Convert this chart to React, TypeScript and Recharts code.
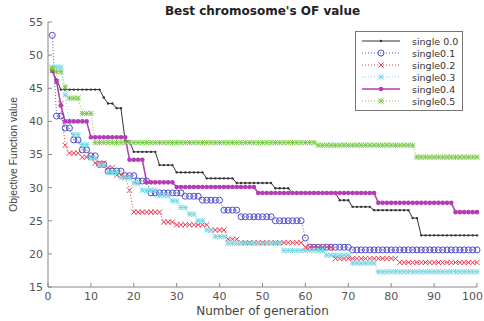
import React from 'react';
import { LineChart, Line, XAxis, YAxis, Legend, Label } from 'recharts';

// generations 1..100 on the x axis
const generations = Array.from({ length: 100 }, (_, i) => i + 1);
const xTicks = [0, 10, 20, 30, 40, 50, 60, 70, 80, 90, 100];
const yTicks = [15, 20, 25, 30, 35, 40, 45, 50, 55];

// best-so-far OF value, as [generation where it changes, new value]
const single00 = [
  [1, 47.5], [2, 46.3], [3, 44.8], [13, 43.6], [14, 42.7], [16, 42], [18, 37], [20, 35.4],
  [26, 33.4], [30, 32.3], [37, 31.4], [44, 30.7], [53, 29.9], [57, 29.2], [68, 28.1],
  [71, 27.1], [76, 26.6], [85, 25.4], [87, 22.8],
];
const single01 = [
  [1, 53], [2, 40.8], [4, 39], [6, 37.2], [8, 35.7], [10, 34.8], [12, 33.5], [14, 32.5],
  [18, 31.8], [21, 31], [24, 29.2], [32, 28.7], [36, 28.1], [41, 26.6], [45, 25.6],
  [53, 25], [60, 22.4], [61, 21], [71, 20.6],
];
const single02 = [
  [1, 47.7], [2, 46], [3, 42.7], [4, 36.4], [5, 35.2], [8, 34.6], [11, 33.7], [14, 33],
  [16, 31.9], [18, 31.6], [19, 29.6], [20, 26.3], [27, 24.8], [30, 24.4], [38, 23.6],
  [42, 22.2], [45, 21.7], [60, 21], [67, 19.3], [82, 18.7],
];
const single03 = [
  [1, 48.2], [4, 44], [5, 40], [6, 38], [8, 36.5], [10, 34.4], [12, 33.5], [14, 32.3],
  [17, 31.5], [20, 30.7], [22, 29.6], [26, 28.8], [29, 28], [31, 27], [33, 26], [35, 25],
  [37, 23.6], [39, 22.6], [42, 21.6], [55, 20.5], [65, 19.8], [71, 18.6], [77, 17.3],
];
const single04 = [
  [1, 47.7], [2, 46], [3, 42.4], [4, 40], [10, 37.6], [19, 34.2], [23, 30.8], [30, 30.1],
  [49, 29.2], [77, 27.7], [95, 26.3],
];
const single05 = [
  [1, 48], [2, 47.5], [4, 45.2], [5, 43.5], [8, 41.2], [11, 36.8], [63, 36.4], [86, 34.6],
];

const hold = (steps: number[][]) =>
  generations.map((g) => {
    let v = steps[0][1];
    for (const [s, val] of steps) if (g >= s) v = val;
    return v;
  });

const data = generations.map((g, i) => ({
  gen: g,
  s0: hold(single00)[i],
  s1: hold(single01)[i],
  s2: hold(single02)[i],
  s3: hold(single03)[i],
  s4: hold(single04)[i],
  s5: hold(single05)[i],
}));

type Shape = 'point' | 'circle' | 'cross' | 'star' | 'filled';

const marker = (shape: Shape, color: string, cx: number, cy: number, key?: any) => {
  if (shape === 'point') return <circle key={key} cx={cx} cy={cy} r={1.2} fill={color} />;
  if (shape === 'circle')
    return <circle key={key} cx={cx} cy={cy} r={3} fill="none" stroke={color} strokeWidth={1} />;
  if (shape === 'filled') return <circle key={key} cx={cx} cy={cy} r={2.3} fill={color} />;
  const s = 2.6;
  return (
    <g key={key} stroke={color} strokeWidth={1}>
      <line x1={cx - s} y1={cy - s} x2={cx + s} y2={cy + s} />
      <line x1={cx - s} y1={cy + s} x2={cx + s} y2={cy - s} />
      {shape === 'star' && <line x1={cx - s} y1={cy} x2={cx + s} y2={cy} />}
      {shape === 'star' && <line x1={cx} y1={cy - s} x2={cx} y2={cy + s} />}
    </g>
  );
};

const series = [
  { key: 's0', name: 'single 0.0', color: '#333333', shape: 'point' as Shape, dash: undefined, width: 1 },
  { key: 's1', name: 'single0.1', color: '#5050cc', shape: 'circle' as Shape, dash: '1 2', width: 1 },
  { key: 's2', name: 'single0.2', color: '#ee3b52', shape: 'cross' as Shape, dash: '1 2', width: 1 },
  { key: 's3', name: 'single0.3', color: '#78d8e6', shape: 'star' as Shape, dash: '1 2', width: 1 },
  { key: 's4', name: 'single0.4', color: '#b43cb4', shape: 'filled' as Shape, dash: undefined, width: 1.5 },
  { key: 's5', name: 'single0.5', color: '#7ccc4c', shape: 'star' as Shape, dash: '1 2', width: 1 },
];

const font = '"DejaVu Sans", sans-serif';

const XTick = (props: any) => {
  const { x, y, payload } = props;
  const last = payload.value === 100;
  return (
    <text
      x={last ? 483 : x}
      y={y}
      dy={8}
      textAnchor={last ? 'end' : 'middle'}
      fontFamily={font}
      fontSize={11}
      fill="#555"
    >
      {payload.value}
    </text>
  );
};

const renderLegend = () => (
  <div
    style={{
      width: 106,
      border: '1px solid #777',
      background: '#fff',
      padding: '3px 0',
      fontFamily: font,
      fontSize: 9.5,
      color: '#333',
    }}
  >
    {series.map((s) => (
      <div key={s.key} style={{ display: 'flex', alignItems: 'center', height: 12 }}>
        <svg width={46} height={12} style={{ marginLeft: 4 }}>
          <line x1={2} y1={6} x2={40} y2={6} stroke={s.color} strokeWidth={s.width} strokeDasharray={s.dash} />
          {marker(s.shape, s.color, 21, 6)}
        </svg>
        <span style={{ marginLeft: 6 }}>{s.name}</span>
      </div>
    ))}
  </div>
);

export default function App() {
  return (
    <div style={{ position: 'absolute', left: 0, top: 0, width: 484, height: 321, background: '#fff' }}>
      <div
        style={{
          position: 'absolute',
          top: 4,
          left: 48,
          width: 429,
          textAlign: 'center',
          fontFamily: font,
          fontWeight: 'bold',
          fontSize: 12,
          lineHeight: '14px',
          color: '#222',
        }}
      >
        Best chromosome's OF value
      </div>
      <LineChart width={484} height={321} data={data} margin={{ top: 22, right: 7, bottom: 4, left: 0 }}>
        <XAxis
          xAxisId="top"
          orientation="top"
          dataKey="gen"
          type="number"
          domain={[0, 100]}
          tick={false}
          tickLine={false}
          axisLine={{ stroke: '#dddddd' }}
          height={0}
        />
        <YAxis
          yAxisId="right"
          orientation="right"
          domain={[15, 55]}
          tick={false}
          tickLine={false}
          axisLine={{ stroke: '#dddddd' }}
          width={0}
        />
        <XAxis
          dataKey="gen"
          type="number"
          domain={[0, 100]}
          ticks={xTicks}
          height={30}
          tickSize={-4}
          tickMargin={9}
          tickLine={{ stroke: '#888' }}
          axisLine={{ stroke: '#888' }}
          tick={<XTick />}
        >
          <Label
            value="Number of generation"
            position="insideBottom"
            offset={2}
            style={{ fontFamily: font, fontSize: 12, fill: '#444' }}
          />
        </XAxis>
        <YAxis
          domain={[15, 55]}
          ticks={yTicks}
          width={48}
          tickSize={-4}
          tickMargin={9}
          tickLine={{ stroke: '#888' }}
          axisLine={{ stroke: '#888' }}
          tick={{ fontFamily: font, fontSize: 11, fill: '#555' }}
        >
          <Label
            value="Objective Function value"
            angle={-90}
            position="insideLeft"
            offset={13}
            style={{ fontFamily: '"Liberation Sans", Arial, sans-serif', fontSize: 10.5, fill: '#444', textAnchor: 'middle' }}
          />
        </YAxis>
        <Legend
          layout="horizontal"
          verticalAlign="middle"
          align="center"
          wrapperStyle={{ top: 31, left: 355, width: 108 }}
          content={renderLegend}
        />
        {series.map((s) => (
          <Line
            key={s.key}
            type="linear"
            dataKey={s.key}
            name={s.name}
            stroke={s.color}
            strokeWidth={s.width}
            strokeDasharray={s.dash}
            dot={(p: any) => marker(s.shape, s.color, p.cx, p.cy, p.index)}
            activeDot={false}
            isAnimationActive={false}
          />
        ))}
      </LineChart>
    </div>
  );
}
